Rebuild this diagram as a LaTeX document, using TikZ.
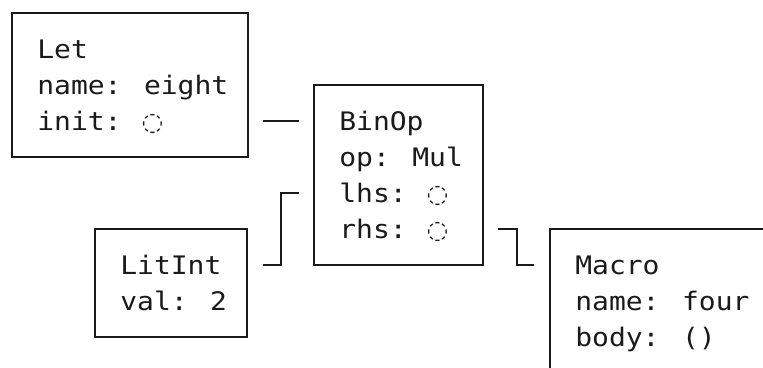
\documentclass[tikz,border=0pt]{standalone}
\usepackage{fontspec}
\newfontfamily\tfont[FakeStretch=1.098]{DejaVu Sans Mono}
\newfontfamily\symf{DejaVu Sans}
\usetikzlibrary{calc}
\definecolor{ink}{HTML}{1A1A1A}
\newcommand{\dotc}{\makebox[16.86pt][c]{\symf\fontsize{25}{36}\selectfont ◌}}
\begin{document}
\begin{tikzpicture}[x=1pt, y=-1pt,
  box/.style={draw=ink, line width=2pt, inner sep=0pt, outer sep=0pt, rectangle},
  txt/.style={anchor=base west, inner sep=0pt, outer sep=0pt, text=ink, font=\tfont\fontsize{25.5}{36}\selectfont},
  wire/.style={draw=ink, line width=2pt}]
\useasboundingbox (0,0) rectangle (763,367);
\clip (0,0) rectangle (763,367);
% boxes
\node[box, minimum width=236pt, minimum height=144pt] (let)    at (130,85) {};
\node[box, minimum width=168.6pt, minimum height=180pt] (binop) at (398.3,175) {};
\node[box, minimum width=152pt, minimum height=108pt] (litint) at (171,283) {};
\node[box, minimum width=219pt, minimum height=144pt] (macro)  at (659.5,301) {};
% texts
\node[txt] (let1) at ($(let.north west)+(25.3,45)$) {Let};
\node[txt] (let2) at ($(let.north west)+(25.3,81)$) {name: eight};
\node[txt] (let3) at ($(let.north west)+(25.3,117)$) {init: \dotc};
\node[txt] (bin1) at ($(binop.north west)+(25.3,45)$) {BinOp};
\node[txt] (bin2) at ($(binop.north west)+(25.3,81)$) {op: Mul};
\node[txt] (bin3) at ($(binop.north west)+(25.3,117)$) {lhs: \dotc};
\node[txt] (bin4) at ($(binop.north west)+(25.3,153)$) {rhs: \dotc};
\node[txt] (lit1) at ($(litint.north west)+(25.3,45)$) {LitInt};
\node[txt] (lit2) at ($(litint.north west)+(25.3,81)$) {val: 2};
\node[txt] (mac1) at ($(macro.north west)+(25.3,45)$) {Macro};
\node[txt] (mac2) at ($(macro.north west)+(25.3,81)$) {name: four};
\node[txt] (mac3) at ($(macro.north west)+(25.3,117)$) {body: ()};
% connectors
\draw[wire] ($(let.south east)+(15,-36)$) -- ($(binop.north west)+(-15,36)$);
\draw[wire] ($(litint.north east)+(16,36)$) -- ++(18,0) |- ($(binop.north west)+(-15,108)$);
\draw[wire] ($(binop.north east)+(15,144)$) -- ++(19,0) |- ($(macro.north west)+(-16,36)$);
\end{tikzpicture}
\end{document}
